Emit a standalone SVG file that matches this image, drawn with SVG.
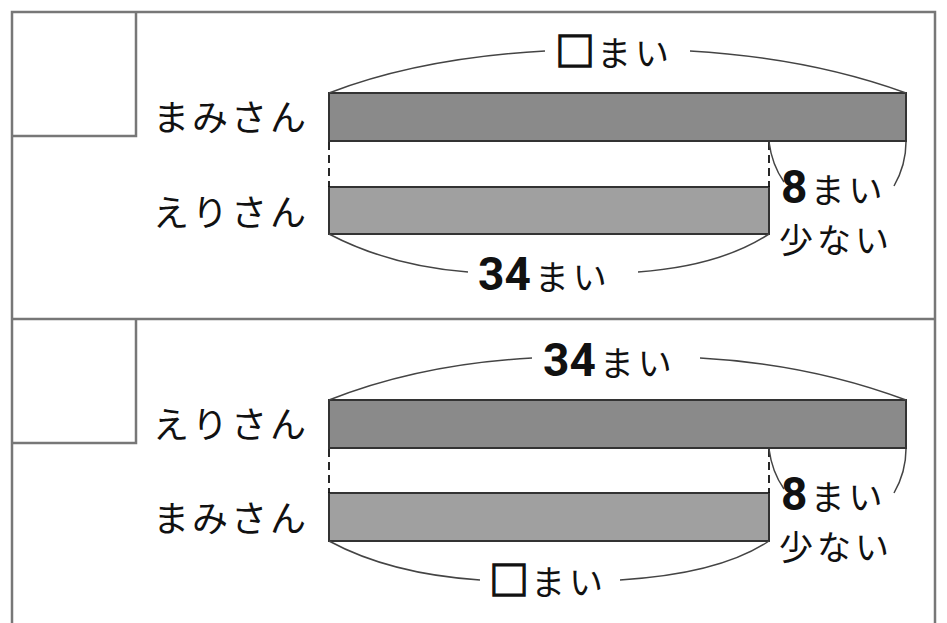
<svg xmlns="http://www.w3.org/2000/svg" width="947" height="623" viewBox="0 0 947 623">
<style>
.frame{fill:none;stroke:#777;stroke-width:2.5}
.bar1{fill:#8a8a8a;stroke:#333;stroke-width:2}
.bar2{fill:#a0a0a0;stroke:#333;stroke-width:2}
.brace{fill:none;stroke:#444;stroke-width:1.5}
.dash{fill:none;stroke:#111;stroke-width:1.8;stroke-dasharray:8,5}
.name{font-family:"Noto Sans CJK JP",sans-serif;font-size:36px;letter-spacing:3px;fill:#111}
.lab{font-family:"Noto Sans CJK JP",sans-serif;font-size:34px;letter-spacing:4px;fill:#111}
.num{font-family:Roboto,"Liberation Sans",sans-serif;font-weight:bold;font-size:46px;letter-spacing:0px}
.box{font-weight:bold;font-size:40px;letter-spacing:2px;stroke:#111;stroke-width:1.4}
</style>
<rect width="947" height="623" fill="#fff"/>
<g id="frame">
<path class="frame" d="M12,630 V12 H935 V630 M12,319 H935 M12,136 H136 V12 M12,443 H136 V319"/>
</g>
<g id="section1">
<g id="s1-labels">
<text class="name" x="153" y="131">まみさん</text>
<text class="name" x="153" y="226">えりさん</text>
</g>
<g id="s1-bars">
<rect id="s1-mami" class="bar1" x="329" y="93" width="577" height="48"/>
<rect id="s1-eri" class="bar2" x="329" y="187" width="440" height="47"/>
</g>
<g id="s1-connectors">
<path class="dash" d="M329,142 V187 M769,142 V187"/>
<path class="brace" d="M329,93 Q420,58 545,51 M690,51 Q810,58 906,93"/>
<path class="brace" d="M329,234 Q390,266 468,272 M638,272 Q720,266 769,234"/>
<path class="brace" d="M769,142 Q772,165 784,182 M906,142 Q906,165 894,186"/>
</g>
<g id="s1-texts">
<text class="lab" x="555" y="66"><tspan class="box">□</tspan>まい</text>
<text class="lab" x="478" y="290"><tspan class="num">34</tspan><tspan dx="4">まい</tspan></text>
<text class="lab" x="781" y="203"><tspan class="num">8</tspan><tspan dx="3">まい</tspan></text>
<text class="lab" x="779" y="253">少ない</text>
</g>
</g>
<g id="section2">
<g id="s2-labels">
<text class="name" x="153" y="438">えりさん</text>
<text class="name" x="153" y="532">まみさん</text>
</g>
<g id="s2-bars">
<rect id="s2-eri" class="bar1" x="329" y="400" width="577" height="48"/>
<rect id="s2-mami" class="bar2" x="329" y="493" width="440" height="48"/>
</g>
<g id="s2-connectors">
<path class="dash" d="M329,449 V493 M769,449 V493"/>
<path class="brace" d="M329,400 Q420,364 532,358 M700,358 Q810,364 906,400"/>
<path class="brace" d="M329,541 Q390,574 480,580 M620,580 Q720,574 769,541"/>
<path class="brace" d="M769,449 Q772,472 784,489 M906,449 Q906,472 894,493"/>
</g>
<g id="s2-texts">
<text class="lab" x="543" y="376"><tspan class="num">34</tspan><tspan dx="4">まい</tspan></text>
<text class="lab" x="489" y="595"><tspan class="box">□</tspan>まい</text>
<text class="lab" x="781" y="510"><tspan class="num">8</tspan><tspan dx="3">まい</tspan></text>
<text class="lab" x="779" y="560">少ない</text>
</g>
</g>
</svg>
